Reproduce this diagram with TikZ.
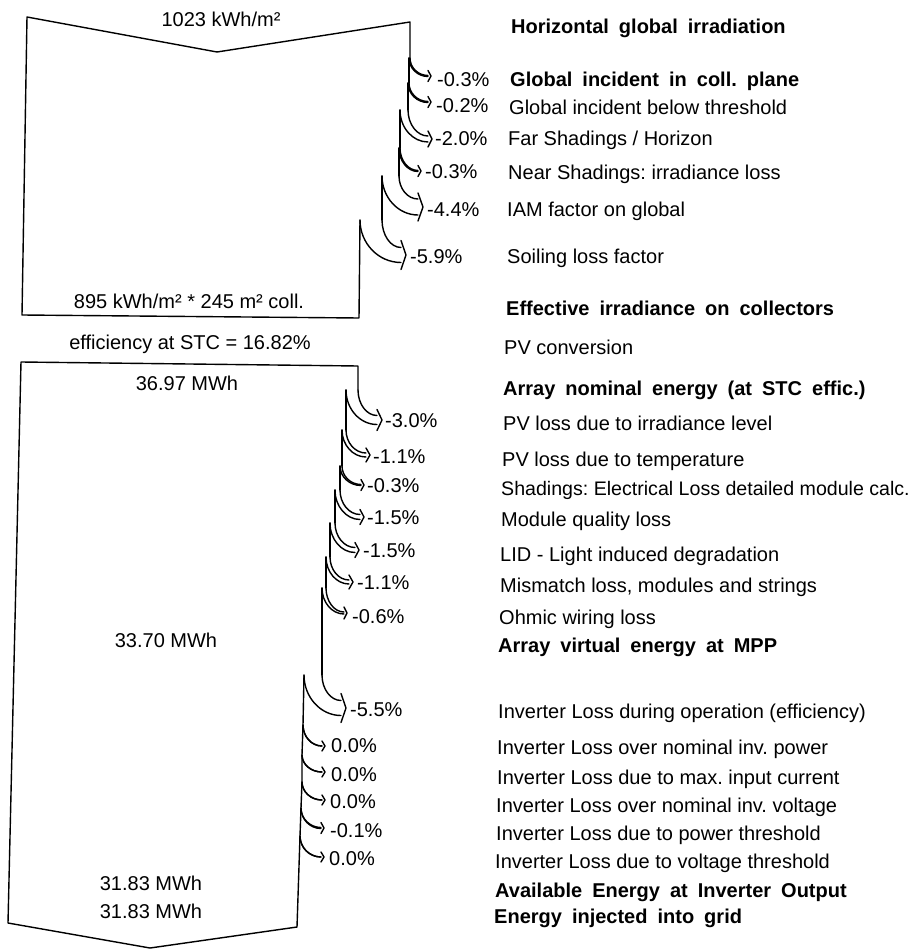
\documentclass[tikz,border=0pt]{standalone}
\usepackage{fontspec}
\setmainfont{Liberation Sans}
\frenchspacing
\newcommand\bsp{\spaceskip=10pt plus 1pt\relax}
\newcommand\pvloss[8]{%
 \pgfmathsetmacro\pvYa{#5-#6/2}%
 \pgfmathsetmacro\pvYb{#5+#6/2}%
 \pgfmathsetmacro\pvCao{#3+0.55*(\pvYa-#3)}%
 \pgfmathsetmacro\pvCbo{#4-0.55*(#4-#1)}%
 \pgfmathsetmacro\pvCai{#3+0.55*(\pvYb-#3)}%
 \pgfmathsetmacro\pvCbi{#4-0.55*(#4-#2)}%
 \pgfmathsetmacro\pvYc{\pvYa-#7}%
 \pgfmathsetmacro\pvYd{\pvYb+#7}%
 \pgfmathsetmacro\pvXe{#4+#8}%
 \draw[flow] (#1,#3) .. controls (#1,\pvCao) and (\pvCbo,\pvYa) .. (#4,\pvYa);
 \draw[flow] (#2,#3) .. controls (#2,\pvCai) and (\pvCbi,\pvYb) .. (#4,\pvYb);
 \draw[flow] (#4,\pvYc) -- (\pvXe,#5) -- (#4,\pvYd);
}
\tikzset{
 flow/.style={line width=1.4pt, line join=round, line cap=round},
 lbl/.style={anchor=base west, inner sep=0pt, font=\fontsize{20}{24}\selectfont\frenchspacing},
 blbl/.style={anchor=base west, inner sep=0pt, font=\fontsize{20}{24}\selectfont\bfseries\frenchspacing\bsp},
 val/.style={anchor=base, inner sep=0pt, font=\fontsize{20}{24}\selectfont\frenchspacing},
}
\begin{document}
\begin{tikzpicture}[x=1pt,y=-1pt]
\useasboundingbox (0,0) rectangle (915,949);
% ---------- upper box ----------
\draw[flow] (410,58) -- (410,22) -- (217,52) -- (27,17) -- (22,315) -- (359,318) -- (360,220);
\draw[flow] (409,58) -- (409,83);
\draw[flow] (408,83) -- (408,110);
\draw[flow] (400,110) -- (400,148);
\draw[flow] (399,148) -- (399,176);
\draw[flow] (382,176) -- (382,220);
\pvloss{410}{409}{58}{428}{76}{1}{5}{3}
\pvloss{409}{408}{83}{428}{102}{1}{5}{3}
\pvloss{408}{400}{110}{428}{139}{6}{5}{4}
\pvloss{400}{399}{148}{418}{171}{1}{5}{3}
\pvloss{399}{382}{176}{418}{207}{16}{6}{5}
\pvloss{382}{360}{220}{401}{255}{15}{7}{5}
% ---------- lower box ----------
\draw[flow] (358,390) -- (358,366) -- (21,362) -- (8,923) -- (150,948) -- (297,927) -- (300,836) -- (301,808) -- (302,782) -- (302,755) -- (303,725) -- (304,675);
\draw[flow] (346,390) -- (346,430);
\draw[flow] (342,430) -- (342,466);
\draw[flow] (340,466) -- (340,490);
\draw[flow] (335,490) -- (335,523);
\draw[flow] (330,523) -- (330,557);
\draw[flow] (326,557) -- (326,588);
\draw[flow] (322,588) -- (322,675);
\pvloss{358}{346}{390}{377}{420}{9}{6}{5}
\pvloss{346}{342}{430}{366}{455}{4}{5}{4}
\pvloss{342}{340}{466}{361}{485}{1}{5}{3}
\pvloss{340}{335}{490}{360}{517}{5}{5}{4}
\pvloss{335}{330}{523}{355}{550}{5}{5}{4}
\pvloss{330}{326}{557}{349}{582}{4}{5}{4}
\pvloss{326}{322}{588}{344}{613}{2}{5}{3}
\pvloss{322}{304}{675}{341}{708}{15}{7}{5}
\pvloss{303}{303}{725}{322}{746}{0}{5}{3}
\pvloss{302}{302}{755}{322}{772}{0}{5}{3}
\pvloss{302}{302}{782}{322}{800}{0}{5}{3}
\pvloss{301}{301}{808}{321}{828}{1}{5}{3}
\pvloss{300}{300}{836}{321}{857}{0}{5}{3}
% ---------- values in boxes ----------
\node[val] (v1) at (221,27) {1023 kWh/m²};
\node[val] (v2) at (189,308) {895 kWh/m² * 245 m² coll.};
\node[val] (v3) at (190,349) {efficiency at STC = 16.82\%};
\node[val] (v4) at (187,390) {36.97 MWh};
\node[val] (v5) at (166,647) {33.70 MWh};
\node[val] (v6) at (151,890) {31.83 MWh};
\node[val] (v7) at (151,918) {31.83 MWh};
% ---------- loss percentages ----------
\node[lbl] (p1) at (437,87) {-0.3\%};
\node[lbl] (p2) at (436,113) {-0.2\%};
\node[lbl] (p3) at (435,146) {-2.0\%};
\node[lbl] (p4) at (425,179) {-0.3\%};
\node[lbl] (p5) at (427,217) {-4.4\%};
\node[lbl] (p6) at (410,264) {-5.9\%};
\node[lbl] (q1) at (385,427) {-3.0\%};
\node[lbl] (q2) at (373,463) {-1.1\%};
\node[lbl] (q3) at (367,492) {-0.3\%};
\node[lbl] (q4) at (367,524) {-1.5\%};
\node[lbl] (q5) at (363,557) {-1.5\%};
\node[lbl] (q6) at (357,589) {-1.1\%};
\node[lbl] (q7) at (352,623) {-0.6\%};
\node[lbl] (q8) at (350,716) {-5.5\%};
\node[lbl] (r1) at (331,752) {0.0\%};
\node[lbl] (r2) at (331,781) {0.0\%};
\node[lbl] (r3) at (330,808) {0.0\%};
\node[lbl] (r4) at (330,837) {-0.1\%};
\node[lbl] (r5) at (329,865) {0.0\%};
% ---------- right column ----------
\node[blbl] (t1) at (511,34) {Horizontal global irradiation};
\node[blbl] (t2) at (510,87) {Global incident in coll. plane};
\node[lbl] (t3) at (509,115) {Global incident below threshold};
\node[lbl] (t4) at (508,146) {Far Shadings / Horizon};
\node[lbl] (t5) at (508,180) {Near Shadings: irradiance loss};
\node[lbl] (t6) at (507,217) {IAM factor on global};
\node[lbl] (t7) at (507,264) {Soiling loss factor};
\node[blbl] (t8) at (506,315) {Effective irradiance on collectors};
\node[lbl] (t9) at (504,354) {PV conversion};
\node[blbl] (t10) at (503,395) {Array nominal energy (at STC effic.)};
\node[lbl] (t11) at (503,430) {PV loss due to irradiance level};
\node[lbl] (t12) at (502,466) {PV loss due to temperature};
\node[lbl, font=\fontsize{19.6}{24}\selectfont\frenchspacing] (t13) at (501,495) {Shadings: Electrical Loss detailed module calc.};
\node[lbl] (t14) at (501,526) {Module quality loss};
\node[lbl] (t15) at (500,561) {LID - Light induced degradation};
\node[lbl] (t16) at (500,592) {Mismatch loss, modules and strings};
\node[lbl] (t17) at (499,624) {Ohmic wiring loss};
\node[blbl] (t18) at (498,652) {Array virtual energy at MPP};
\node[lbl] (t19) at (498,718) {Inverter Loss during operation (efficiency)};
\node[lbl] (t20) at (497,754) {Inverter Loss over nominal inv. power};
\node[lbl] (t21) at (497,784) {Inverter Loss due to max. input current};
\node[lbl] (t22) at (496,812) {Inverter Loss over nominal inv. voltage};
\node[lbl] (t23) at (496,840) {Inverter Loss due to power threshold};
\node[lbl] (t24) at (495,868) {Inverter Loss due to voltage threshold};
\node[blbl] (t25) at (495,897) {Available Energy at Inverter Output};
\node[blbl] (t26) at (494,923) {Energy injected into grid};
\end{tikzpicture}
\end{document}
